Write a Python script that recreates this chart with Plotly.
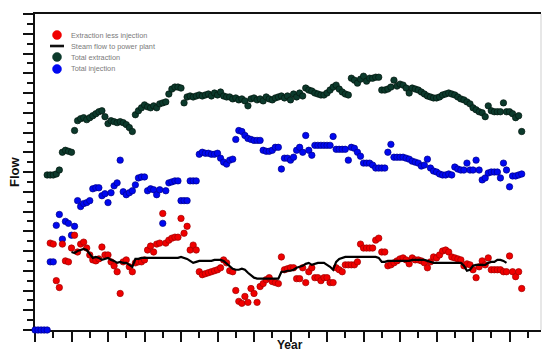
import plotly.graph_objects as go

# Monthly flow records (month index counted from the start of the record).
EXTRACTION_START = 4
extraction = [
    157, 157, 157, 158, 162, 180, 182, 181, 180, 202,
    212, 214, 215, 213, 215, 217, 219, 221, 222, 216,
    209, 212, 211, 210, 211, 210, 208, 205, 201, 218,
    222, 225, 228, 226, 225, 227, 225, 229, 230, 231,
    239, 244, 246, 246, 245, 230, 236, 237, 236, 237,
    238, 237, 238, 239, 237, 240, 238, 241, 237, 236,
    236, 234, 235, 233, 234, 232, 227, 234, 235, 233,
    234, 232, 236, 234, 233, 235, 236, 237, 235, 237,
    233, 239, 236, 240, 237, 245, 243, 242, 240, 239,
    238, 238, 240, 243, 246, 248, 244, 241, 239, 238,
    255, 253, 250, 254, 257, 252, 255, 255, 256, 256,
    243, 243, 244, 246, 253, 247, 249, 248, 245, 240,
    245, 244, 243, 241, 239, 237, 236, 235, 235, 236,
    238, 239, 240, 239, 238, 236, 234, 233, 231, 229,
    225, 223, 221, 220, 216, 227, 222, 221, 221, 221,
    230, 221, 221, 219, 215, 217, 201,
]

INJECTION_START = 0
injection = [
    0, 0, 0, 0, 0,
    69, 69, 106, 117, 92, 110, 108, 96, 105, 131,
    125, 128, 129, 131, 143, 144, 144, 136, 138, 129,
    139, 146, 149, 172, 140, 137, 139, 141, 147, 154,
    155, 155, 141, 143, 142, 137, 142, 108, 141, 149,
    150, 151, 151, 131, 131, 131, 151, 151, 151, 178,
    180, 179, 179, 178, 178, 179, 174, 170, 168, 172,
    173, 193, 202, 201, 197, 194, 193, 192, 192, 192,
    182, 181, 181, 182, 185, 185, 163, 174, 174, 172,
    175, 182, 185, 180, 197, 182, 177, 187, 187, 187,
    187, 187, 187, 196, 183, 183, 183, 183, 172, 185,
    184, 180, 176, 169, 169, 169, 167, 164, 164, 164,
    164, 180, 188, 175, 175, 175, 175, 174, 173, 171,
    170, 169, 166, 167, 173, 164, 161, 160, 158, 157,
    157, 158, 157, 165, 163, 162, 162, 169, 162, 162,
    172, 162, 152, 154, 159, 160, 160, 160, 154, 169,
    162, 145, 156, 156, 157, 158,
]

NET_START = 5
net_flow = [
    88, 87, 50, 43, 87, 70, 69, 83, 96, 79,
    87, 89, 83, 76, 71, 70, 72, 84, 76, 76,
    69, 65, 59, 37, 69, 71, 64, 59, 68, 69,
    69, 71, 81, 85, 79, 87, 88, 118, 88, 91,
    93, 94, 94, 113, 98, 105, 81, 86, 81, 59,
    56, 57, 58, 59, 60, 61, 63, 71, 68, 60,
    59, 40, 29, 27, 34, 28, 42, 37, 28, 44,
    47, 51, 53, 49, 48, 47, 74, 61, 62, 63,
    63, 52, 52, 63, 48, 59, 63, 53, 53, 50,
    53, 53, 48, 48, 63, 61, 59, 66, 66, 66,
    66, 69, 87, 83, 83, 83, 83, 91, 93, 79,
    79, 65, 66, 68, 70, 72, 73, 71, 67, 73,
    71, 71, 70, 68, 63, 69, 74, 73, 76, 80,
    81, 79, 74, 73, 72, 71, 65, 67, 66, 61,
    53, 64, 70, 66, 73, 61, 61, 61, 61, 59,
    59, 75, 59, 54, 59, 42,
]

STEAM_START = 12
steam_flow = [
    79, 78, 80, 81, 82, 81, 77, 73, 74, 73,
    71, 72, 73, 71, 70, 68, 69, 68, 68, 66,
    64, 72, 72, 73, 73, 73, 73, 73, 73, 73,
    73, 73, 73, 73, 73, 73, 74, 73, 72, 70,
    68, 69, 70, 70, 70, 70, 70, 71, 71, 71,
    70, 67, 64, 62, 61, 61, 62, 61, 58, 55,
    53, 52, 52, 52, 52, 52, 52, 52, 52, 59,
    59, 60, 60, 61, 63, 64, 65, 67, 68, 66,
    67, 68, 68, 68, 66, 64, 61, 69, 72, 73,
    74, 74, 74, 74, 74, 74, 74, 74, 74, 74,
    74, 73, 69, 69, 70, 70, 70, 70, 70, 70,
    70, 70, 71, 71, 71, 71, 71, 70, 69, 68,
    68, 68, 68, 68, 68, 68, 68, 68, 68, 65,
    60, 61, 65, 66, 66, 66, 66, 68, 69, 69,
    71, 71, 70, 68,
]

LEGEND_LABELS = [
    "Extraction less injection",
    "Steam flow to power plant",
    "Total extraction",
    "Total injection",
]

RED = "#f00000"
DARK = "#0c3a2c"
BLUE = "#0008f0"
FONT = "Arial, 'Liberation Sans', sans-serif"


def months(start, values):
    return list(range(start, start + len(values)))


def dots(x, y, color, edge):
    return go.Scatter(
        x=x, y=y, mode="markers", showlegend=False, cliponaxis=False,
        marker=dict(size=6.4, color=color, line=dict(width=0.7, color=edge)),
    )


fig = go.Figure()
fig.add_trace(dots(months(EXTRACTION_START, extraction), extraction, DARK, "#03170f"))
fig.add_trace(dots(months(INJECTION_START, injection), injection, BLUE, "#00008a"))
fig.add_trace(dots(months(NET_START, net_flow), net_flow, RED, "#a00000"))
fig.add_trace(go.Scatter(
    x=months(STEAM_START, steam_flow), y=steam_flow, mode="lines", showlegend=False,
    line=dict(color="#000000", width=2.2),
))

axis_common = dict(
    showline=True, linewidth=2, linecolor="#111111",
    ticks="outside", ticklen=10, tickwidth=2, tickcolor="#111111",
    showticklabels=False, showgrid=False, zeroline=False,
    layer="below traces",
)

fig.update_xaxes(
    range=[0, 166.34], tick0=0, dtick=12, mirror=True,
    minor=dict(dtick=6, ticks="outside", ticklen=6, tickwidth=1.6,
               tickcolor="#111111", showgrid=False),
    **axis_common,
)
fig.update_yaxes(
    range=[0, 320], tick0=0, dtick=20,
    minor=dict(dtick=10, ticks="outside", ticklen=6, tickwidth=1.6,
               tickcolor="#111111", showgrid=False),
    **axis_common,
)

shapes = [
    # light frame on the right-hand side
    dict(type="line", xref="paper", yref="paper", x0=1, x1=1, y0=0, y1=1,
         line=dict(color="#cfcfcf", width=1)),
]

# hand-built legend in the upper-left corner of the plot
legend_x = 0.0435
text_x = 0.0672
rows = [0.9335, 0.8987, 0.8639, 0.826]
glyph_colors = [RED, None, DARK, BLUE]
annotations = []
for label, ypos, col in zip(LEGEND_LABELS, rows, glyph_colors):
    if col is None:
        shapes.append(dict(type="line", xref="paper", yref="paper",
                           x0=0.0296, x1=0.0573, y0=ypos, y1=ypos,
                           line=dict(color="#111111", width=2.6)))
    else:
        shapes.append(dict(type="circle", xref="paper", yref="paper",
                           xsizemode="pixel", ysizemode="pixel",
                           xanchor=legend_x, yanchor=ypos,
                           x0=-4.5, x1=4.5, y0=-4.5, y1=4.5,
                           fillcolor=col, line=dict(color=col, width=0.5)))
    annotations.append(dict(
        text=label, xref="paper", yref="paper", x=text_x, y=ypos,
        xanchor="left", yanchor="middle", showarrow=False,
        font=dict(family=FONT, size=7.3, color="#7a7a7a"),
    ))

annotations.append(dict(
    text="<b>Flow</b>", xref="paper", yref="paper", x=0, y=0.5,
    xshift=-21, textangle=-90, showarrow=False,
    xanchor="center", yanchor="middle",
    font=dict(family=FONT, size=13, color="#111111"),
))
annotations.append(dict(
    text="<b>Year</b>", xref="paper", yref="paper", x=0.5, y=0,
    xshift=2, yshift=-6, showarrow=False,
    xanchor="center", yanchor="top",
    font=dict(family=FONT, size=12, color="#111111"),
))

fig.update_layout(
    width=544, height=351,
    margin=dict(l=35, r=3, t=14, b=21),
    paper_bgcolor="white", plot_bgcolor="white",
    showlegend=False,
    shapes=shapes, annotations=annotations,
)

fig.write_html("out.html")
